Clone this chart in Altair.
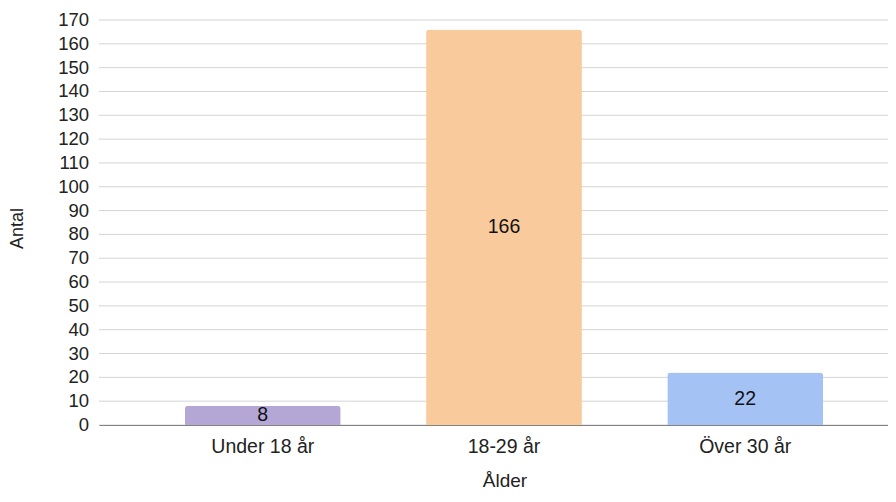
import altair as alt
import pandas as pd

categories = ["Under 18 år", "18-29 år", "Över 30 år"]
values = [8, 166, 22]
colors = ["#b4a7d6", "#f9cb9c", "#a4c2f4"]
y_ticks = list(range(0, 171, 10))

df = pd.DataFrame({"Ålder": categories, "Antal": values})
df["mid"] = [v / 2 for v in values]
ticks_df = pd.DataFrame({"t": y_ticks})

FONT = "Liberation Sans"
FS = 19.5

x_scale = alt.Scale(range=[0, 810], paddingInner=0.354, paddingOuter=0.356)
x_axis = alt.Axis(
    title="Ålder",
    labelAngle=0,
    labelFontSize=FS,
    labelColor="#222222",
    labelFont=FONT,
    labelPadding=12,
    ticks=False,
    domainColor="#333333",
    domainWidth=1,
    grid=False,
    titleFontSize=19,
    titleFont=FONT,
    titleFontWeight="normal",
    titleColor="#222222",
    titleX=405.5,
    titleY=61,
    titleBaseline="alphabetic",
    titleAlign="center",
)

y_scale = alt.Scale(domain=[0, 170], nice=False, zero=True)
y_axis = alt.Axis(
    title="Antal",
    labels=False,
    ticks=False,
    domain=False,
    grid=False,
    titleFontSize=18,
    titleFont=FONT,
    titleFontWeight="normal",
    titleColor="#222222",
    titleX=-81.5,
    titleY=208,
    titleBaseline="middle",
    titleAlign="center",
    titleAngle=-90,
)

grid = alt.Chart(ticks_df).mark_rule(color="#d4d4d4", strokeWidth=1).encode(
    y=alt.Y("t:Q", scale=y_scale, axis=y_axis),
)

tick_labels = alt.Chart(ticks_df).mark_text(
    fontSize=18.5, font=FONT, color="#222222", align="right", baseline="middle", dx=-10
).encode(
    x=alt.value(0),
    y=alt.Y("t:Q", scale=y_scale, axis=y_axis),
    text=alt.Text("t:Q"),
)

bars = alt.Chart(df).mark_bar(cornerRadiusTopLeft=3, cornerRadiusTopRight=3).encode(
    x=alt.X("Ålder:N", sort=categories, scale=x_scale, axis=x_axis),
    y=alt.Y("Antal:Q", scale=y_scale, axis=y_axis),
    color=alt.Color("Ålder:N", scale=alt.Scale(domain=categories, range=colors), legend=None),
)

labels = alt.Chart(df).mark_text(
    fontSize=FS, font=FONT, color="#111111", baseline="middle"
).encode(
    x=alt.X("Ålder:N", sort=categories, scale=x_scale, axis=x_axis),
    y=alt.Y("mid:Q", scale=y_scale, axis=y_axis),
    text=alt.Text("Antal:Q"),
)

chart = (
    alt.layer(grid, bars, labels, tick_labels)
    .properties(
        width=789,
        height=405,
        autosize=alt.AutoSizeParams(type="none"),
        padding={"left": 91, "top": 12, "right": 0, "bottom": 67},
    )
    .configure(background="white")
    .configure_view(stroke=None, clip=False)
)

chart.save("out.html", embed_options={"renderer": "svg", "actions": False})
